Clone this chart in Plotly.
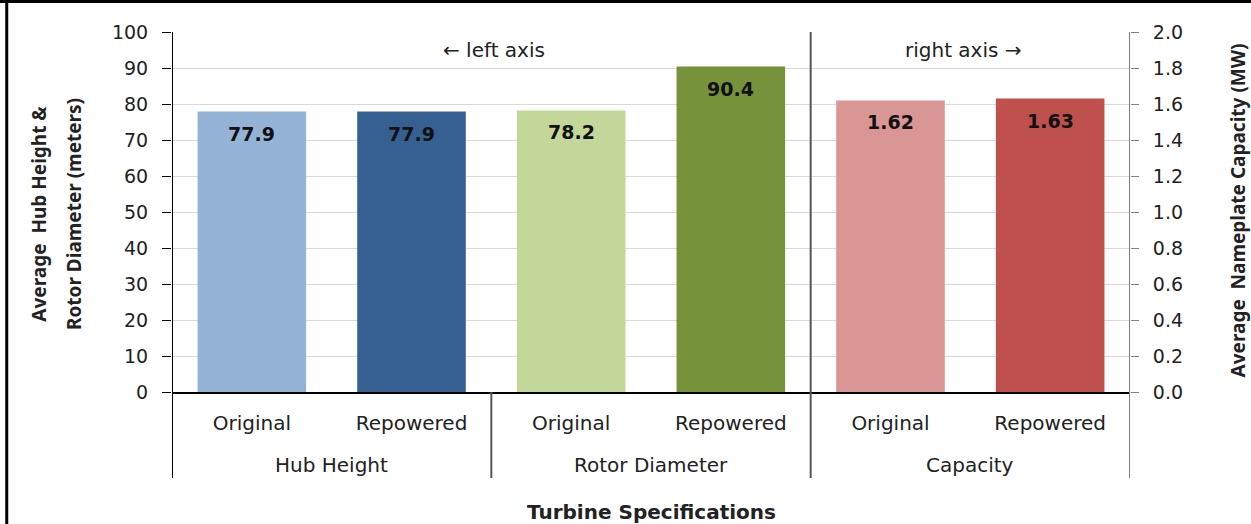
import plotly.graph_objects as go

# ---- data ----
positions = [0, 1, 2, 3, 4, 5]
tick_labels = ["Original", "Repowered", "Original", "Repowered", "Original", "Repowered"]
groups = ["Hub Height", "Rotor Diameter", "Capacity"]
group_centers = [0.5, 2.5, 4.5]
left_vals = [77.9, 77.9, 78.2, 90.4]          # meters (left axis)
right_vals = [1.62, 1.63]                      # MW (right axis)
left_colors = ["#95B3D7", "#366092", "#C4D79B", "#76933C"]
right_colors = ["#DA9694", "#C0504D"]
left_ticks = [0, 10, 20, 30, 40, 50, 60, 70, 80, 90, 100]
right_ticks = [0, 0.2, 0.4, 0.6, 0.8, 1.0, 1.2, 1.4, 1.6, 1.8, 2.0]

FONT = "DejaVu Sans"
TFONT = "Noto Sans"
TXT = "#222222"

fig = go.Figure()
fig.add_trace(go.Bar(x=positions[:4], y=left_vals, marker=dict(color=left_colors, line=dict(width=0)),
                     width=0.68, yaxis="y", showlegend=False, hoverinfo="skip"))
fig.add_trace(go.Bar(x=positions[4:], y=right_vals, marker=dict(color=right_colors, line=dict(width=0)),
                     width=0.68, yaxis="y2", showlegend=False, hoverinfo="skip"))

def ann(**kw):
    d = dict(showarrow=False, xanchor="center", yanchor="middle")
    d.update(kw)
    return d

annotations = []
# value labels
for x, v in zip(positions[:4], left_vals):
    annotations.append(ann(x=x, y=v, xref="x", yref="y", text=f"<b>{v:.1f}</b>",
                           yshift=-22, font=dict(family=FONT, size=19, color="#111111")))
for x, v in zip(positions[4:], right_vals):
    annotations.append(ann(x=x, y=v, xref="x", yref="y2", text=f"<b>{v:.2f}</b>",
                           yshift=-22, font=dict(family=FONT, size=19, color="#111111")))
# group labels
for gx, g in zip(group_centers, groups):
    annotations.append(ann(x=gx, y=-0.203, xref="x", yref="paper", text=g,
                           font=dict(family=FONT, size=20, color=TXT)))
# axis notes
annotations.append(ann(x=1.517, y=0.95, xref="x", yref="paper", text="\u2190 left axis",
                       font=dict(family=FONT, size=20, color=TXT)))
annotations.append(ann(x=4.46, y=0.95, xref="x", yref="paper", text="right axis \u2192",
                       font=dict(family=FONT, size=20, color=TXT)))
# axis titles
annotations.append(ann(x=-0.139, y=0.495, xref="paper", yref="paper", text="<b>Average  Hub Height &</b>",
                       textangle=-90, font=dict(family=TFONT, size=19, color=TXT)))
annotations.append(ann(x=-0.102, y=0.495, xref="paper", yref="paper", text="<b>Rotor Diameter (meters)</b>",
                       textangle=-90, font=dict(family=TFONT, size=19, color=TXT)))
annotations.append(ann(x=1.113, y=0.505, xref="paper", yref="paper", text="<b>Average  Nameplate Capacity (MW)</b>",
                       textangle=-90, font=dict(family=TFONT, size=19, color=TXT)))
annotations.append(ann(x=0.5, y=-0.333, xref="paper", yref="paper", text="<b>Turbine Specifications</b>",
                       font=dict(family=FONT, size=20, color=TXT)))

shapes = []
# axis / divider lines (extend below the category axis)
for xv, top, col in [(-0.5, 1, "#000000"), (1.5, 0, "#555555"), (3.5, 1, "#555555"), (5.5, 1, "#808080")]:
    shapes.append(dict(type="line", xref="x", yref="paper", x0=xv, x1=xv, y0=-0.239, y1=top,
                       line=dict(color=col, width=2)))
# frame border of the picture
shapes.append(dict(type="line", xref="paper", yref="paper", x0=-0.1725, x1=-0.1725, y0=-0.5, y1=1.09,
                   line=dict(color="#000000", width=3)))
shapes.append(dict(type="line", xref="paper", yref="paper", x0=-0.2, x1=1.2, y0=1.085, y1=1.085,
                   line=dict(color="#000000", width=3)))

fig.update_layout(
    width=1251, height=524,
    margin=dict(l=172, r=121, t=32, b=132),
    paper_bgcolor="white", plot_bgcolor="white",
    barmode="overlay",
    xaxis=dict(range=[-0.5, 5.5], tickmode="array", tickvals=positions, ticktext=tick_labels,
               showline=True, linecolor="#000000", linewidth=1.5, ticks="", showgrid=False, zeroline=False,
               tickfont=dict(family=FONT, size=20, color=TXT), ticklabelstandoff=12),
    yaxis=dict(range=[0, 100], tickmode="array", tickvals=left_ticks, showgrid=True, gridcolor="#D9D9D9",
               gridwidth=1, showline=False, ticks="outside", ticklen=9, tickcolor="#000000",
               zeroline=False, tickfont=dict(family=FONT, size=19, color=TXT), ticklabelstandoff=10),
    yaxis2=dict(range=[0, 2], overlaying="y", side="right", tickmode="array", tickvals=right_ticks,
                ticktext=[f"{t:.1f}" for t in right_ticks], showgrid=False, showline=False,
                ticks="outside", ticklen=8, tickcolor="#808080", zeroline=False,
                tickfont=dict(family=FONT, size=19, color=TXT), ticklabelstandoff=10),
    annotations=annotations,
    shapes=shapes,
)

fig.write_html("out.html", config={"displayModeBar": False},
               post_script="document.body.style.margin='0';document.body.style.overflow='hidden';")
